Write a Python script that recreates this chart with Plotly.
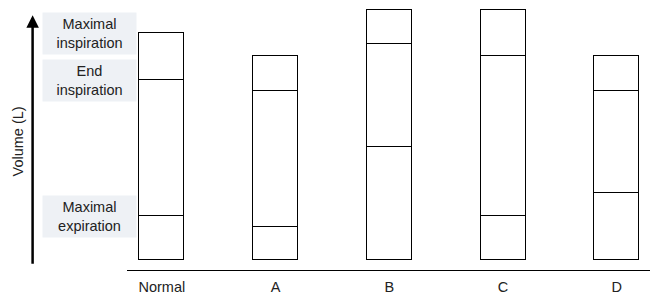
import plotly.graph_objects as go

# Data (litres)
categories = ["Normal", "A", "B", "C", "D"]
maximal_inspiration = [6.00, 5.39, 6.61, 6.61, 5.39]
end_inspiration = [4.76, 4.47, 5.71, 5.39, 4.47]
maximal_expiration = [1.16, 0.87, 2.99, 1.16, 1.77]

level_labels = ["Maximal<br>inspiration", "End<br>inspiration", "Maximal<br>expiration"]
axis_title = "Volume (L)"

seg_bottom = maximal_expiration
seg_middle = [e - r for e, r in zip(end_inspiration, maximal_expiration)]
seg_top = [m - e for m, e in zip(maximal_inspiration, end_inspiration)]

FONT = "Liberation Sans, Arial, sans-serif"
fig = go.Figure()
for seg in (seg_bottom, seg_middle, seg_top):
    fig.add_trace(go.Bar(
        x=categories, y=seg, width=0.396,
        marker=dict(color="white", line=dict(color="black", width=1.3)),
        hoverinfo="skip", showlegend=False,
    ))

# level labels aligned with the Normal bar's levels
normal_levels = [maximal_inspiration[0], end_inspiration[0], maximal_expiration[0]]
for txt, lvl in zip(level_labels, normal_levels):
    fig.add_annotation(
        x=-0.0717, xref="paper", y=lvl, yref="y", text=txt, showarrow=False,
        xanchor="center", yanchor="middle", width=91, height=39,
        bgcolor="#eef1f5", font=dict(family=FONT, size=14.5, color="#222"),
    )

# vertical arrow
fig.add_annotation(
    x=-0.1805, xref="paper", y=6.48, yref="y", ax=0, ay=250, axref="pixel", ayref="pixel",
    text="", showarrow=True, arrowhead=2, arrowsize=1.0, arrowwidth=2.5, arrowcolor="black",
)
fig.add_annotation(
    x=-0.2085, xref="paper", y=0.5, yref="paper", text=axis_title, textangle=-90,
    showarrow=False, font=dict(family=FONT, size=14.5, color="#222"),
    xanchor="center", yanchor="middle", yshift=-4,
)

fig.update_layout(
    width=669, height=305, margin=dict(l=127, r=19, t=5, b=35),
    barmode="stack", bargap=0, plot_bgcolor="white", paper_bgcolor="white",
    xaxis=dict(range=[-0.306, 4.292], showline=True, linecolor="black", linewidth=1.3,
               showgrid=False, zeroline=False, ticks="", ticklen=0, ticklabelstandoff=3,
               tickfont=dict(family=FONT, size=14.5, color="#222")),
    yaxis=dict(range=[-0.265, 6.75], visible=False, showgrid=False, zeroline=False),
)
fig.write_html("out.html")
